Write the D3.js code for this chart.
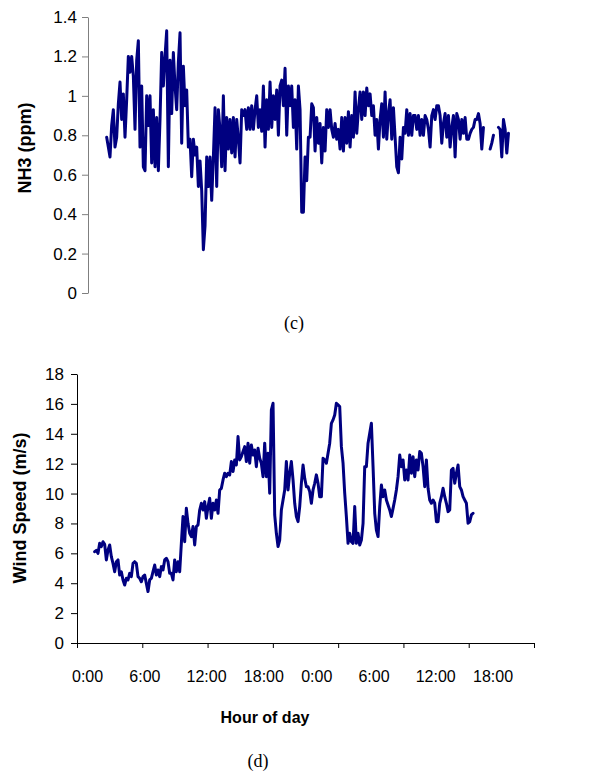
<!DOCTYPE html>
<html>
<head>
<meta charset="utf-8">
<script src="https://cdn.jsdelivr.net/npm/d3@7"></script>
<style>
  body { margin: 0; background: #fff; }
  svg { display: block; }
</style>
</head>
<body>
<svg id="chart" width="592" height="773"></svg>
<script>
// NH3 logger readings (ppm), one per sample, null = missing
const nh3Start = 1.758 // hours after first midnight
const nh3Step = 0.157 // hours between samples
const nh3Values = [
  0.79, 0.74, 0.69, 0.85, 0.93, 0.74, 0.79, 0.96, 1.07, 0.88,
  1.01, 0.79, 0.98, 1.2, 1.12, 1.2, 1.1, 0.83, 1.18, 1.28,
  0.74, 1.05, 0.64, 0.62, 1.0, 0.85, 1.0, 0.66, 0.93, 0.64,
  0.89, 0.62, 0.88, 1.22, 1.05, 1.2, 1.33, 0.64, 1.18, 0.91,
  1.22, 1.05, 0.93, 1.17, 1.32, 0.76, 1.15, 0.95, 1.03, 0.74,
  0.78, 0.59, 0.78, 0.7, 0.74, 0.54, 0.67, 0.52, 0.22,
  0.34, 0.69, 0.54, 0.69, 0.47, 0.69, 0.94, 0.54, 0.93, 0.83,
  0.64, 1.0, 0.62, 0.89, 0.73, 0.88, 0.71, 0.89, 0.69, 0.88,
  0.78, 0.66, 0.93, 0.9, 0.93, 0.83, 0.94, 0.83, 0.95, 0.83,
  0.93, 1.0, 0.84, 0.93, 0.82, 1.05, 0.74, 0.98, 0.83, 1.07,
  0.84, 1.0, 0.88, 1.03, 0.8, 1.05, 1.08, 0.95, 1.14, 0.8,
  1.05, 0.95, 1.05, 0.84, 0.98, 0.73, 1.05, 0.93, 0.41, 0.41,
  0.69, 0.57, 0.79, 0.79, 0.96, 0.94, 0.72, 0.89, 0.76, 0.86,
  0.66, 0.84, 0.72, 0.93, 0.84, 0.93, 0.83, 0.79, 0.86, 0.78,
  0.83, 0.73, 0.89, 0.72, 0.89, 0.76, 0.92, 0.74, 0.9, 0.79,
  1.02, 0.81, 0.93, 1.02, 0.88, 1.02, 0.9, 1.04, 0.95, 1.01,
  0.9, 0.95, 0.8, 0.88, 0.73, 0.88, 0.96, 0.79, 1.02, 0.78,
  0.91, 0.98, 0.78, 0.94, 0.79, 0.64, 0.61, 0.79, 0.68, 0.84,
  0.81, 0.93, 0.8, 0.91, 0.8, 0.9, 0.9, 0.83, 0.9, 0.8,
  0.88, 0.8, 0.9, 0.88, 0.83, 0.74, 0.9, 0.93, 0.88, 0.95,
  0.95, 0.9, 0.76, 0.86, 0.91, 0.79, 0.9, 0.74, 0.84, 0.9,
  0.69, 0.91, 0.88, 0.78, 0.88, 0.81, 0.89, 0.78, 0.78, 0.81,
  0.83, 0.84, 0.88, 0.88, 0.91, 0.86, 0.73, 0.84, null, null,
  null, 0.73, 0.76, 0.8, null, null, 0.84, 0.83, 0.69, 0.88,
  0.83, 0.71, 0.81
]

// wind speed readings (m/s)
const windStart = 1.624
const windStep = 0.1532
const windValues = [
  6.11, 6.2, 6.0, 6.67, 6.45, 6.78, 6.6, 5.56, 6.23, 6.56,
  5.78, 5.33, 4.77, 5.44, 5.56, 4.55, 4.77, 4.22, 3.88, 4.33,
  4.22, 4.66, 4.44, 5.33, 5.44, 5.33, 4.44, 4.33, 4.1, 4.44,
  4.55, 3.99, 3.44, 4.22, 4.33, 4.77, 5.22, 4.55, 4.89, 4.44,
  5.11, 4.89, 5.56, 5.67, 5.44, 4.66, 4.66, 4.22, 5.56, 4.77,
  5.44, 4.77, 6.67, 8.46, 6.78, 9.01, 8.01, 7.34, 7.12, 7.79,
  6.56, 7.79, 7.9, 8.9, 9.35, 8.9, 9.46, 8.34, 9.13, 9.68,
  8.34, 9.35, 8.9, 9.57,
  8.68, 10.24, 10.35, 10.91, 11.36, 11.13, 11.36, 11.25, 12.14, 11.47,
  12.25, 11.91, 13.81, 12.25, 12.47, 12.81, 13.14, 12.14, 13.37, 12.03,
  13.25, 12.58, 12.92, 11.8, 13.03, 12.36, 12.03, 11.13, 13.37, 11.13,
  12.69, 10.02, 15.6, 16.04, 8.57, 7.34, 6.45, 6.89, 8.9, 9.57,
  10.24, 12.14, 10.24, 11.36, 12.14, 10.91, 9.35, 8.46, 8.12, 9.13,
  10.69, 11.91, 11.02, 10.46, 10.46, 10.13, 9.35, 10.24, 10.69, 11.25,
  10.69, 9.79, 9.79, 12.36, 12.25, 12.03, 12.69, 13.37, 14.7, 14.93,
  15.26, 16.04, 15.93,
  15.82, 13.14, 12.03, 10.02, 8.46, 6.67, 7.34, 6.78, 6.67, 9.13,
  6.67, 7.34, 6.56, 6.89, 8.01, 11.8, 11.8, 13.37, 14.03, 14.7,
  11.8, 8.68, 7.56, 7.12, 9.13, 10.57, 9.79, 10.24, 9.57, 9.24,
  8.9, 8.46, 9.01, 9.57, 10.24, 11.13, 12.58, 11.8, 12.25, 10.91,
  11.58, 10.91, 12.58, 11.36, 12.47, 11.13, 12.25, 11.58, 12.81, 12.69,
  11.8, 10.46, 12.25, 10.35, 9.57, 9.35, 9.57, 9.35, 8.12, 8.12,
  9.35, 9.79, 10.35, 9.79, 9.35, 8.79, 8.9, 11.58, 11.69, 10.69,
  11.36, 11.91, 10.46, 10.24, 9.79, 9.57, 9.35, 8.01, 8.12, 8.57,
  8.68
]

const hourTicks = [0, 6, 12, 18, 24, 30, 36, 42]
const hourLabels = ['0:00', '6:00', '12:00', '18:00', '0:00', '6:00', '12:00', '18:00']
const nh3Ticks = [0, 0.2, 0.4, 0.6, 0.8, 1, 1.2, 1.4]
const windTicks = [0, 2, 4, 6, 8, 10, 12, 14, 16, 18]

const sans = "'Liberation Sans', Arial, sans-serif"
const serif = "'Liberation Serif', 'Times New Roman', serif"
const navy = '#000080'

const svg = d3.select('#chart')
svg.append('rect').attr('width', 592).attr('height', 773).attr('fill', '#fff')

// ---- (c) NH3 ----
const x1 = d3.scaleLinear().domain([0, 42]).range([88, 534])
const y1 = d3.scaleLinear().domain([0, 1.4]).range([293, 17])

const ax1 = svg
  .append('g')
  .attr('transform', 'translate(88,0)')
  .call(
    d3
      .axisLeft(y1)
      .tickValues(nh3Ticks)
      .tickSize(6)
      .tickSizeOuter(0)
      .tickPadding(5)
      .tickFormat((d) => String(+d.toFixed(1)))
  )
ax1.selectAll('path,line').attr('stroke', '#7f7f7f')
ax1.selectAll('text').attr('font-family', sans).attr('font-size', 17).attr('fill', '#000')

const line1 = d3
  .line()
  .defined((d) => d != null)
  .x((d, i) => x1(nh3Start + i * nh3Step))
  .y((d) => y1(d))

svg
  .append('path')
  .datum(nh3Values)
  .attr('d', line1)
  .attr('fill', 'none')
  .attr('stroke', navy)
  .attr('stroke-width', 3)
  .attr('stroke-linejoin', 'round')
  .attr('stroke-linecap', 'round')

svg
  .append('text')
  .attr('transform', 'translate(31,148) rotate(-90)')
  .attr('text-anchor', 'middle')
  .attr('font-family', sans)
  .attr('font-weight', 'bold')
  .attr('font-size', 18)
  .text('NH3 (ppm)')

svg
  .append('text')
  .attr('x', 294)
  .attr('y', 329)
  .attr('text-anchor', 'middle')
  .attr('font-family', serif)
  .attr('font-size', 18)
  .text('(c)')

// ---- (d) wind speed ----
const x2 = d3.scaleLinear().domain([0, 42]).range([77, 534])
const y2 = d3.scaleLinear().domain([0, 18]).range([643, 374])

const ax2 = svg
  .append('g')
  .attr('transform', 'translate(77,0)')
  .call(d3.axisLeft(y2).tickValues(windTicks).tickSize(6).tickSizeOuter(0).tickPadding(7))
ax2.selectAll('path,line').attr('stroke', '#000')
ax2.selectAll('text').attr('font-family', sans).attr('font-size', 17).attr('fill', '#000')

const ax3 = svg
  .append('g')
  .attr('transform', 'translate(0,643)')
  .call(d3.axisBottom(x2).tickValues(hourTicks).tickSize(5).tickSizeOuter(0).tickFormat(''))
ax3.selectAll('path,line').attr('stroke', '#000')

// Excel squeezes the hour labels in between the tick marks
const lab = d3.scalePoint().domain(d3.range(hourLabels.length)).range([72, 473])
svg
  .append('g')
  .selectAll('text')
  .data(hourLabels)
  .join('text')
  .attr('x', (d, i) => lab(i))
  .attr('y', 682)
  .attr('font-family', sans)
  .attr('font-size', 16)
  .text((d) => d)

const line2 = d3
  .line()
  .x((d, i) => x2(windStart + i * windStep))
  .y((d) => y2(d))

svg
  .append('path')
  .datum(windValues)
  .attr('d', line2)
  .attr('fill', 'none')
  .attr('stroke', navy)
  .attr('stroke-width', 3)
  .attr('stroke-linejoin', 'round')
  .attr('stroke-linecap', 'round')

svg
  .append('text')
  .attr('transform', 'translate(26,508) rotate(-90)')
  .attr('text-anchor', 'middle')
  .attr('font-family', sans)
  .attr('font-weight', 'bold')
  .attr('font-size', 18)
  .text('Wind Speed (m/s)')

svg
  .append('text')
  .attr('x', 265)
  .attr('y', 723)
  .attr('text-anchor', 'middle')
  .attr('font-family', sans)
  .attr('font-weight', 'bold')
  .attr('font-size', 16)
  .text('Hour of day')

svg
  .append('text')
  .attr('x', 258)
  .attr('y', 767)
  .attr('text-anchor', 'middle')
  .attr('font-family', serif)
  .attr('font-size', 18)
  .text('(d)')
</script>
</body>
</html>
